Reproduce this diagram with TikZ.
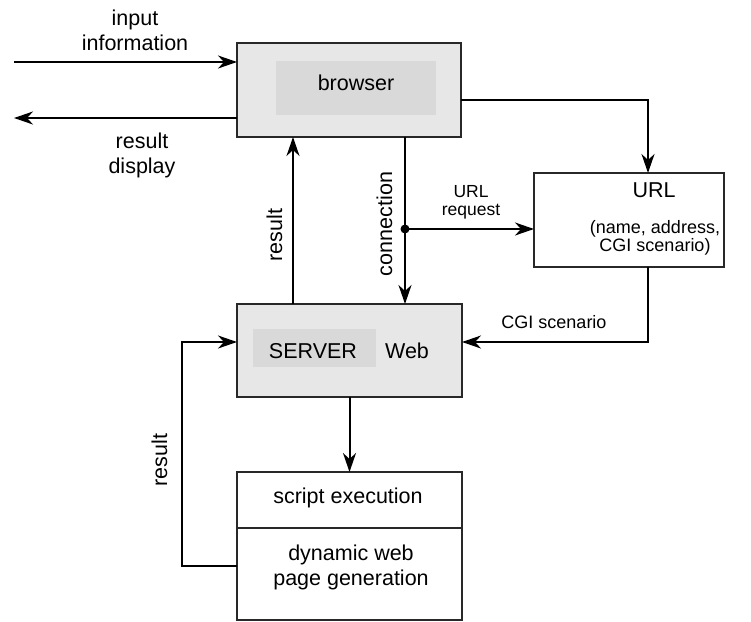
\documentclass[tikz,border=0pt]{standalone}
\usepackage{fontspec}
\setmainfont{Liberation Sans}
\usetikzlibrary{arrows.meta}
\definecolor{boxfill}{RGB}{231,231,231}
\definecolor{innerfill}{RGB}{217,217,217}
\definecolor{edge}{RGB}{40,40,40}
\begin{document}
\begin{tikzpicture}[x=1pt,y=-1pt,
  box/.style={draw=edge,line width=2.2pt,fill=boxfill,inner sep=0pt,outer sep=0pt},
  plainbox/.style={draw=edge,line width=2.2pt,fill=white,inner sep=0pt,outer sep=0pt},
  inner/.style={fill=innerfill,inner sep=0pt},
  arr/.style={line width=2pt,draw=black,-{Stealth[length=19pt,width=13pt,inset=6pt]}},
  big/.style={font=\fontsize{21.5}{25}\selectfont,inner sep=0pt,anchor=base},
  small/.style={font=\fontsize{18}{18}\selectfont,inner sep=0pt,anchor=base}]
\useasboundingbox (0,0) rectangle (751,621);

% boxes
\node[box,minimum width=224pt,minimum height=94pt] (browser) at (349,90) {};
\node[inner,minimum width=160pt,minimum height=54pt] (browserin) at (356,88) {};
\node[plainbox,minimum width=190pt,minimum height=94pt] (url) at (629,220) {};
\node[box,minimum width=225pt,minimum height=93pt] (server) at (349.5,350.5) {};
\node[inner,minimum width=123pt,minimum height=38pt] (serverin) at (314.5,348) {};
\node[plainbox,minimum width=225pt,minimum height=56pt] (script) at (349.5,500) {};
\node[plainbox,minimum width=225pt,minimum height=92pt] (gen) at (349.5,574) {};

% texts in boxes
\node[big] (tbrowser) at (356,90) {browser};
\node[big] (turl) at (654,197) {URL};
\node[small,align=center] (turl2) at (655,251) {(name, address,\\CGI scenario)};
\node[big] (tserver) at (313,358) {SERVER};
\node[big] (tweb) at (407,358) {Web};
\node[big] (tscript) at (348,503) {script execution};
\node[big,align=center] (tgen) at (351,585) {dynamic web\\page generation};

% coordinates
\coordinate (inL) at (14,62);
\coordinate (outL) at (14,118);
\coordinate (dot) at (405,229);
\coordinate (loopB) at (182,566);
\coordinate (loopT) at (182,342);

% connectors
\draw[arr] (inL) -- (browser.west |- inL);
\draw[arr] (browser.west |- outL) -- (outL);
\draw[arr] (browser.east |- 0,100) -| ([xshift=19pt]url.north);
\draw[arr] ([xshift=19pt]url.south) |- (server.east |- loopT);
\draw[arr] (browser.south -| dot) -- (server.north -| dot);
\fill (dot) circle (4.5pt);
\draw[arr] (dot) -- (url.west |- dot);
\draw[arr] (server.north -| 293,0) -- (browser.south -| 293,0);
\draw[arr] (server.south -| script.north) -- (script.north);
\draw[arr] (gen.west |- loopB) -- (loopB) -- (loopT) -- (server.west |- loopT);

% labels
\node[big,align=center] (tin) at (135,50) {input\\information};
\node[big,align=center] (tout) at (142,173) {result\\display};
\node[small,align=center,font=\fontsize{17.5}{18}\selectfont] (treq) at (471,215) {URL\\request};
\node[small] (tcgi) at (554,328) {CGI scenario};
\node[big,rotate=90] (tres1) at (282,235) {result};
\node[big,rotate=90] (tconn) at (392,224) {connection};
\node[big,rotate=90] (tres2) at (167,460) {result};
\end{tikzpicture}
\end{document}
